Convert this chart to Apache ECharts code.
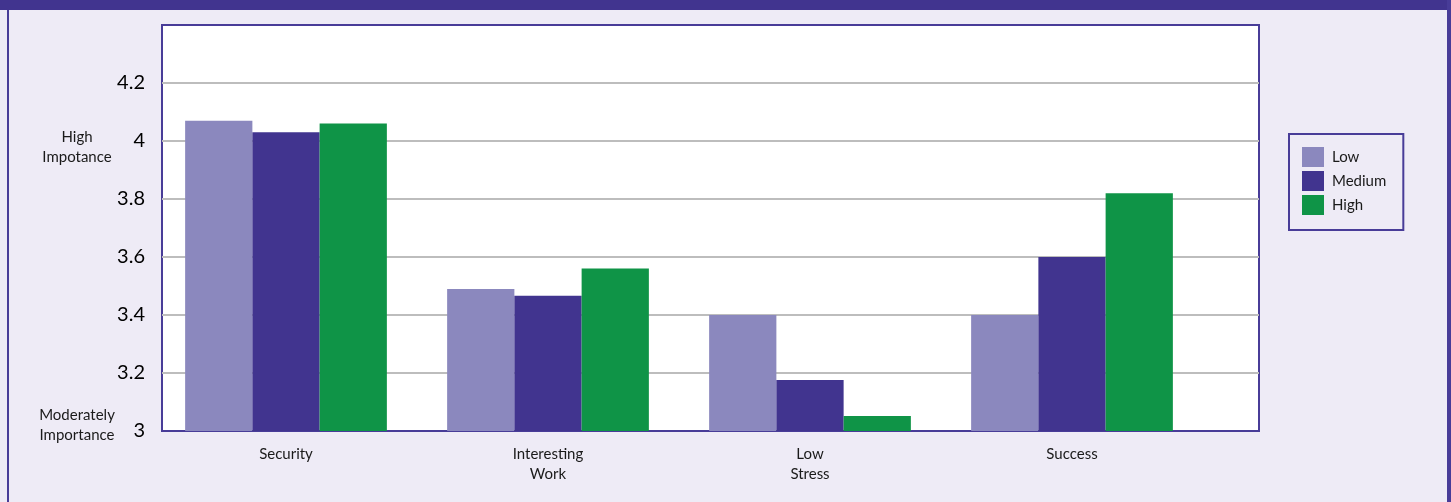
<!DOCTYPE html>
<html>
<head>
<meta charset="utf-8">
<script src="https://cdn.jsdelivr.net/npm/echarts@6/dist/echarts.min.js"></script>
<style>
  html, body { margin: 0; padding: 0; background: #EEEBF6; }
  #chart { width: 1451px; height: 502px; }
</style>
</head>
<body>
<div id="chart"></div>
<script>
// categories and series
const categories = ['Security', 'Interesting\nWork', 'Low\nStress', 'Success'];
const lowValues = [4.07, 3.49, 3.40, 3.40];
const mediumValues = [4.03, 3.466, 3.176, 3.60];
const highValues = [4.06, 3.56, 3.052, 3.82];
const seriesNames = ['Low', 'Medium', 'High'];
const colors = ['#8B88BE', '#41348F', '#0F9447'];

const FONT = 'Lato, "Open Sans", sans-serif';
const FRAME = '#483C98';

const chart = echarts.init(document.getElementById('chart'));

const makeBar = (name, data, color) => ({
  name,
  type: 'bar',
  xAxisIndex: 1,
  yAxisIndex: 1,
  data,
  barGap: '0%',
  barCategoryGap: '23%',
  itemStyle: { color },
});

const sideNote = (text, y) => ({
  type: 'text',
  z: 10,
  style: {
    x: 77, y, text,
    fill: '#1a1a1a',
    font: '15px ' + FONT,
    align: 'center',
    verticalAlign: 'top',
    lineHeight: 20,
  },
});

chart.setOption({
  backgroundColor: '#EEEBF6',
  animation: false,
  textStyle: { fontFamily: FONT },
  graphic: [
    // top band and side borders of the panel
    { type: 'rect', shape: { x: 0, y: 0, width: 1451, height: 10 }, style: { fill: '#41348F' } },
    { type: 'rect', shape: { x: 7, y: 10, width: 2, height: 492 }, style: { fill: FRAME } },
    { type: 'rect', shape: { x: 1447, y: 0, width: 4, height: 502 }, style: { fill: FRAME } },
    // side notes next to the y axis
    sideNote('High\nImpotance', 127),
    sideNote('Moderately\nImportance', 405),
  ],
  legend: {
    data: seriesNames,
    orient: 'vertical',
    left: 1289,
    top: 134,
    icon: 'rect',
    itemWidth: 22,
    itemHeight: 20,
    itemGap: 4,
    padding: [13, 17, 15, 13],
    borderColor: FRAME,
    borderWidth: 2,
    textStyle: { fontSize: 15, color: '#1a1a1a', fontFamily: FONT, padding: [0, 0, 0, 3] },
  },
  grid: [
    // frame, background and gridlines
    { left: 162, top: 25, width: 1097, height: 406, show: true, backgroundColor: '#fff', borderColor: FRAME, borderWidth: 2 },
    // bars and category labels
    { left: 155, top: 25, width: 1048, height: 406 },
  ],
  xAxis: [
    { gridIndex: 0, type: 'value', show: false },
    {
      gridIndex: 1,
      type: 'category',
      data: categories,
      axisLine: { show: false },
      axisTick: { show: false },
      axisLabel: { fontSize: 15, color: '#1a1a1a', lineHeight: 20, margin: 13, fontFamily: FONT },
    },
  ],
  yAxis: [
    {
      gridIndex: 0,
      type: 'value',
      min: 3,
      max: 4.4,
      interval: 0.2,
      axisLine: { show: false },
      axisTick: { show: false },
      axisLabel: {
        fontSize: 20,
        color: '#000',
        margin: 17,
        fontFamily: FONT,
        formatter: (v) => (v > 4.3 ? '' : String(Math.round(v * 10) / 10)),
      },
      splitLine: { showMinLine: false, showMaxLine: false, lineStyle: { color: '#BDBDBD', width: 2 } },
    },
    { gridIndex: 1, type: 'value', min: 3, max: 4.4, show: false },
  ],
  series: [
    makeBar(seriesNames[0], lowValues, colors[0]),
    makeBar(seriesNames[1], mediumValues, colors[1]),
    makeBar(seriesNames[2], highValues, colors[2]),
  ],
});
</script>
</body>
</html>
